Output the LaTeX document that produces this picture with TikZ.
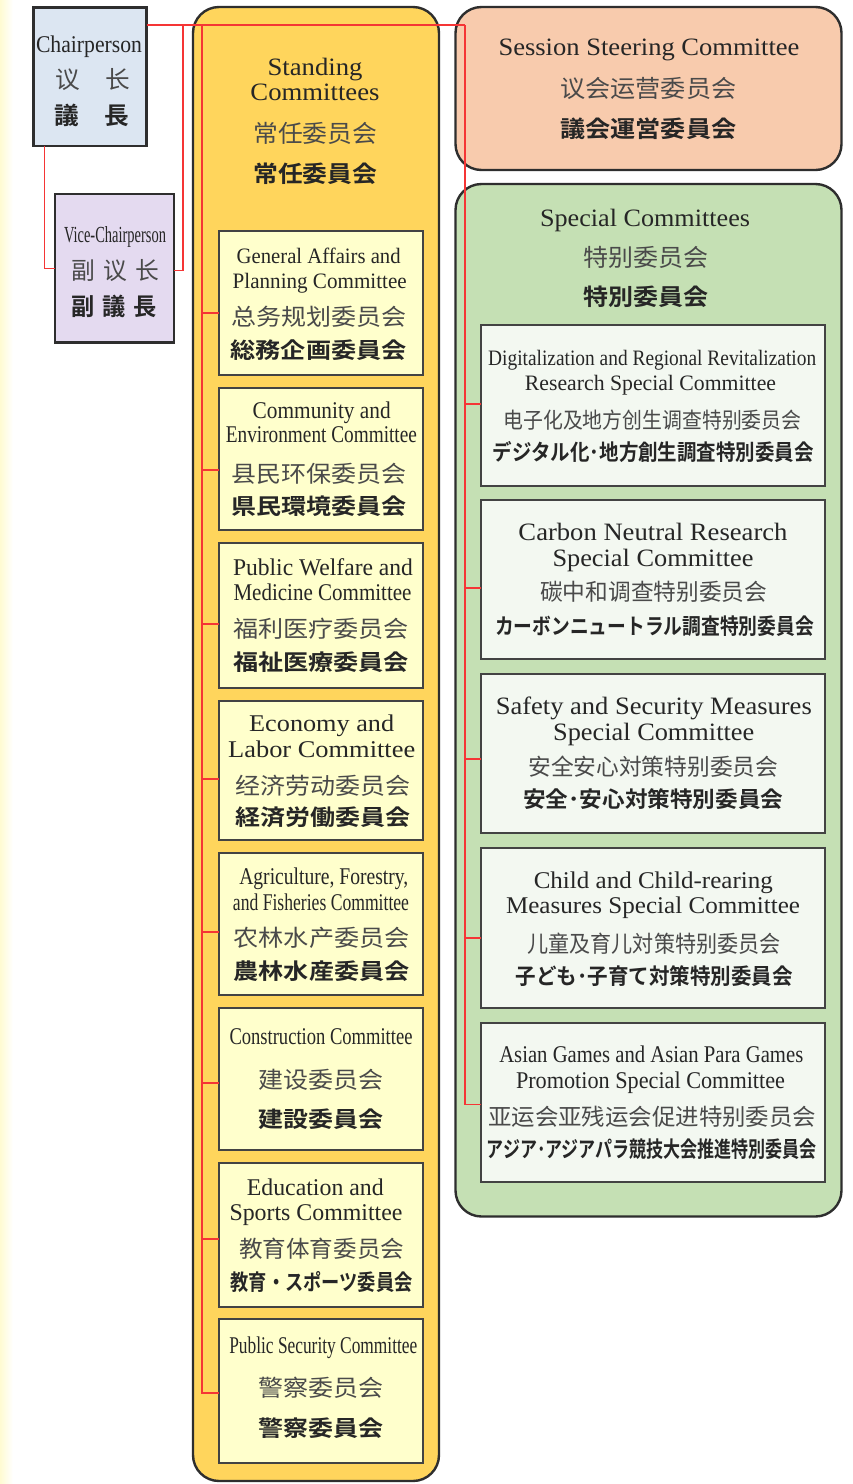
\documentclass[tikz,border=0pt]{standalone}
\usepackage{fontspec}
\usepackage{graphicx}
\setmainfont{Liberation Serif}
\newfontfamily\zhf{Noto Sans CJK SC}
\newfontfamily\jpf{Noto Sans CJK JP Bold}
\definecolor{chairfill}{HTML}{DCE6F2}
\definecolor{vicefill}{HTML}{E4DAF0}
\definecolor{stfill}{HTML}{FFD55C}
\definecolor{stin}{HTML}{FFFFCC}
\definecolor{sefill}{HTML}{F8CBAD}
\definecolor{spfill}{HTML}{C5E0B4}
\definecolor{spin}{HTML}{F3F8F1}
\definecolor{edgegray}{HTML}{2E2E2E}
\definecolor{redline}{HTML}{F53535}
\definecolor{entext}{HTML}{262626}
\definecolor{zhtext}{HTML}{4A4A4A}
\definecolor{jptext}{HTML}{262626}
\definecolor{paleyellow}{HTML}{FFFBD2}
\tikzset{
  txt/.style={anchor=base, inner sep=0pt, outer sep=0pt},
  panel/.style={draw=edgegray, line width=2.4pt, inner sep=0pt, outer sep=0pt},
  outerbox/.style={panel, rounded corners=26pt},
  innerbox/.style={draw=edgegray!90, line width=1.8pt, inner sep=0pt, outer sep=0pt},
  stinner/.style={innerbox, fill=stin, minimum width=204pt},
  spinner/.style={innerbox, fill=spin, minimum width=344pt},
  conn/.style={draw=redline, line width=1.3pt},
}
\newcommand\EN[6][24]{\node[txt] (#2) at (#3,#4) {\resizebox{#5pt}{\height}{\fontsize{#1}{#1}\selectfont\color{entext}#6}};}
\newcommand\ZH[6][23]{\node[txt] (#2) at (#3,#4) {\resizebox{#5pt}{\height}{\fontsize{#1}{#1}\zhf\color{zhtext}#6}};}
\newcommand\JP[6][22]{\node[txt] (#2) at (#3,#4) {\resizebox{#5pt}{\height}{\fontsize{#1}{#1}\jpf\color{jptext}#6}};}
\newcommand\boxat[6]{\node[#2, minimum width={(#5-#3)*1pt}, minimum height={(#6-#4)*1pt}] (#1) at ({(#3+#5)/2},{(#4+#6)/2}) {};}
\begin{document}
\begin{tikzpicture}[x=1pt,y=-1pt]
\useasboundingbox (0,0) rectangle (852,1484);
\fill[white] (0,0) rectangle (852,1484);
\shade[left color=paleyellow, right color=white] (0,0) rectangle (13,1484);

% outer panels
\boxat{ch}{panel, fill=chairfill}{33.5}{7.5}{146.5}{146}
\boxat{vc}{panel, fill=vicefill}{55}{194}{174}{342.5}
\boxat{st}{outerbox, fill=stfill}{193}{7}{439}{1481}
\boxat{se}{outerbox, fill=sefill}{455.5}{7}{841.5}{170}
\boxat{sp}{outerbox, fill=spfill}{455.5}{184}{841.5}{1216.5}

% standing inner boxes
\boxat{ga}{stinner}{219}{231}{423}{375}
\boxat{ce}{stinner}{219}{388}{423}{530}
\boxat{pw}{stinner}{219}{543}{423}{688}
\boxat{el}{stinner}{219}{701}{423}{840}
\boxat{af}{stinner}{219}{853}{423}{995}
\boxat{co}{stinner}{219}{1008}{423}{1150}
\boxat{es}{stinner}{219}{1163}{423}{1307}
\boxat{ps}{stinner}{219}{1319}{423}{1463}

% special inner boxes
\boxat{dr}{spinner}{481}{325}{825}{486}
\boxat{cn}{spinner}{481}{500}{825}{659}
\boxat{ss}{spinner}{481}{674}{825}{833}
\boxat{cc}{spinner}{481}{848}{825}{1008}
\boxat{ag}{spinner}{481}{1023}{825}{1182}

% connectors
\coordinate (vT) at (183,25);
\coordinate (stT) at (202,25);
\coordinate (spT) at (465,25);
\draw[conn] ([yshift=-17.5pt]ch.north east) -- (spT);
\draw[conn] ([xshift=10.8pt]ch.south west) |- (vc.west);
\draw[conn] (vT) |- ([yshift=-2.5pt]vc.east);
\draw[conn] (stT) |- ([yshift=-10pt]ga.west);
\draw[conn] (stT) |- ([yshift=-11pt]ce.west);
\draw[conn] (stT) |- ([yshift=-8.5pt]pw.west);
\draw[conn] (stT) |- ([yshift=-8.5pt]el.west);
\draw[conn] (stT) |- ([yshift=-8pt]af.west);
\draw[conn] (stT) |- ([yshift=-4pt]co.west);
\draw[conn] (stT) |- ([yshift=-4pt]es.west);
\draw[conn] (stT) |- ([yshift=-2pt]ps.west);
\draw[conn] (spT) |- ([yshift=1.5pt]dr.west);
\draw[conn] (spT) |- ([yshift=-8.5pt]cn.west);
\draw[conn] (spT) |- ([yshift=-5.5pt]ss.west);
\draw[conn] (spT) |- ([yshift=-10pt]cc.west);
\draw[conn] (spT) |- ([yshift=-2pt]ag.west);

% chairperson
\EN{ch-en}{89}{52.3}{106}{Chairperson}
\ZH[24]{ch-zh}{92.7}{88}{74}{议\hspace{1em}长}
\JP[24]{ch-jp}{91.7}{124}{74}{議\hspace{1em}長}
% vice
\EN[23]{vc-en}{115}{242.7}{102}{Vice-Chairperson}
\ZH[24]{vc-zh}{115.5}{279}{88}{副\hspace{0.35em}议\hspace{0.35em}长}
\JP[24]{vc-jp}{114.2}{315}{86}{副\hspace{0.35em}議\hspace{0.35em}長}

% standing title
\EN[25]{st-en1}{315}{75}{95}{Standing}
\EN[25]{st-en2}{315}{100}{129}{Committees}
\ZH[24]{st-zh}{315.3}{142.3}{124}{常任委员会}
\JP[23]{st-jp}{315.3}{182.3}{124}{常任委員会}

% session
\EN[25]{se-en}{649}{55}{301}{Session Steering Committee}
\ZH[24]{se-zh}{648.4}{97.3}{176}{议会运营委员会}
\JP[23]{se-jp}{648.4}{137.3}{176}{議会運営委員会}

% special title
\EN[25]{sp-en}{645}{226}{210}{Special Committees}
\ZH[24]{sp-zh}{645.5}{266}{125}{特别委员会}
\JP[23]{sp-jp}{645.5}{305}{125}{特別委員会}

% standing committees
\EN[22]{ga-en1}{318.7}{263.3}{164}{General Affairs and}
\EN[22]{ga-en2}{319.7}{288.3}{174}{Planning Committee}
\ZH{ga-zh}{319.2}{325.7}{175}{总务规划委员会}
\JP{ga-jp}{318.7}{358.3}{176}{総務企画委員会}

\EN{ce-en1}{321.7}{418.3}{138}{Community and}
\EN{ce-en2}{321.4}{442.7}{191}{Environment Committee}
\ZH{ce-zh}{319.2}{482}{175}{县民环保委员会}
\JP{ce-jp}{319.2}{514}{175}{県民環境委員会}

\EN{pw-en1}{323}{575}{180}{Public Welfare and}
\EN{pw-en2}{322.5}{600.7}{178}{Medicine Committee}
\ZH{pw-zh}{321}{637.3}{176}{福利医疗委员会}
\JP{pw-jp}{321}{670}{176}{福祉医療委員会}

\EN{el-en1}{321.7}{731.7}{145}{Economy and}
\EN{el-en2}{321.7}{757.7}{187}{Labor Committee}
\ZH{el-zh}{322.5}{794}{175}{经济劳动委员会}
\JP{el-jp}{322.5}{825.7}{175}{経済労働委員会}

\EN{af-en1}{323.8}{884.3}{169}{Agriculture, Forestry,}
\EN{af-en2}{321}{910}{176}{and Fisheries Committee}
\ZH{af-zh}{321.7}{946.3}{176}{农林水产委员会}
\JP{af-jp}{321.7}{979.7}{176}{農林水産委員会}

\EN{co-en}{321}{1044}{183}{Construction Committee}
\ZH{co-zh}{320.8}{1088.3}{125}{建设委员会}
\JP{co-jp}{320.8}{1127.3}{125}{建設委員会}

\EN{es-en1}{315.3}{1195}{137}{Education and}
\EN{es-en2}{316}{1220.7}{173}{Sports Committee}
\ZH{es-zh}{321.7}{1257.3}{165}{教育体育委员会}
\JP{es-jp}{321.7}{1290.7}{182}{教育・スポーツ委員会}

\EN{ps-en}{323.3}{1353.3}{188}{Public Security Committee}
\ZH{ps-zh}{320.8}{1396.3}{125}{警察委员会}
\JP{ps-jp}{320.8}{1436.3}{125}{警察委員会}

% special committees
\EN[22]{dr-en1}{652.2}{365}{328}{Digitalization and Regional Revitalization}
\EN[22]{dr-en2}{650.5}{390.7}{251}{Research Special Committee}
\ZH[22]{dr-zh}{652.5}{428.3}{298}{电子化及地方创生调查特别委员会}
\JP[22]{dr-jp}{653.3}{460.7}{321}{デジタル化･地方創生調査特別委員会}

\EN[25]{cn-en1}{653}{540}{269}{Carbon Neutral Research}
\EN[25]{cn-en2}{653}{566}{201}{Special Committee}
\ZH{cn-zh}{653.7}{600.7}{227}{碳中和调查特别委员会}
\JP{cn-jp}{654.5}{634}{319}{カーボンニュートラル調査特別委員会}

\EN[25]{ss-en1}{653.8}{714}{316}{Safety and Security Measures}
\EN[25]{ss-en2}{653.7}{740}{201}{Special Committee}
\ZH{ss-zh}{653.3}{775}{250}{安全安心対策特别委员会}
\JP{ss-jp}{653.3}{807.3}{260}{安全･安心対策特別委員会}

\EN{cc-en1}{653.3}{888.3}{239}{Child and Child-rearing}
\EN{cc-en2}{653}{913.3}{294}{Measures Special Committee}
\ZH{cc-zh}{654}{952.3}{253}{儿童及育儿対策特别委员会}
\JP{cc-jp}{654.3}{984}{277}{子ども･子育て対策特別委員会}

\EN{ag-en1}{651.3}{1062.7}{304}{Asian Games and Asian Para Games}
\EN{ag-en2}{650.5}{1088.3}{269}{Promotion Special Committee}
\ZH{ag-zh}{652.2}{1125.7}{328}{亚运会亚残运会促进特别委员会}
\JP{ag-jp}{651.7}{1157.3}{330}{アジア･アジアパラ競技大会推進特別委員会}
\end{tikzpicture}
\end{document}
